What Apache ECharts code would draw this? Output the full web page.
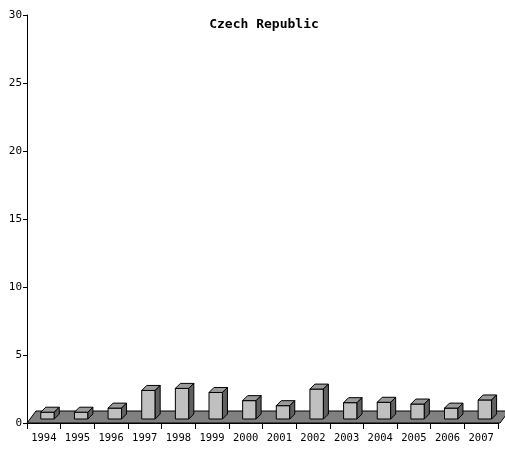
<!DOCTYPE html>
<html>
<head>
    <meta charset="utf-8">
    <title>Czech Republic</title>
    <script src="https://cdn.jsdelivr.net/npm/echarts@6/dist/echarts.min.js"></script>
</head>
<body style="margin:0">
    <div id="main" style="width: 505px;height:450px;"></div>
    <script type="text/javascript">
    var years = ['1994', '1995', '1996', '1997', '1998', '1999', '2000',
                 '2001', '2002', '2003', '2004', '2005', '2006', '2007'];
    var values = [0.5, 0.5, 0.8, 2.1, 2.25, 1.95, 1.35, 0.98, 2.2, 1.2, 1.23, 1.1, 0.8, 1.4];
    var yTicks = [0, 5, 10, 15, 20, 25, 30];

    var font = 'DejaVu Sans Mono';
    var myChart = echarts.init(document.getElementById('main'));

    // floor of the 3d look, built from the grid rect
    function renderFloor(params, api) {
        var cs = params.coordSys;
        var y0 = cs.y + cs.height;
        var x0 = cs.x, x1 = cs.x + cs.width + 2;
        return {
            type: 'polygon',
            shape: { points: [[x0, y0], [x1, y0], [x1 + 9, y0 - 12], [x0 + 9, y0 - 12]] },
            style: { fill: '#808080', stroke: '#000', lineWidth: 1 }
        };
    }

    function renderBar(params, api) {
        var idx = api.value(0);
        var p0 = api.coord([idx, 0]);
        var p1 = api.coord([idx, api.value(1)]);
        var band = api.size([1, 0])[0];
        var w = band * 0.4;
        var d = 5;
        var l = p0[0] - band * 0.09;
        var r = l + w;
        var b = p0[1] - 4;
        var t = p1[1] - 4;
        var st = { stroke: '#000', lineWidth: 1 };
        return {
            type: 'group',
            children: [
                { type: 'polygon', shape: { points: [[l, b], [r, b], [r, t], [l, t]] },
                  style: Object.assign({ fill: '#c0c0c0' }, st) },
                { type: 'polygon', shape: { points: [[l, t], [l + d, t - d], [r + d, t - d], [r, t]] },
                  style: Object.assign({ fill: '#9a9a9a' }, st) },
                { type: 'polygon', shape: { points: [[r, t], [r + d, t - d], [r + d, b - d], [r, b]] },
                  style: Object.assign({ fill: '#606060' }, st) }
            ]
        };
    }

    var option = {
        animation: false,
        backgroundColor: '#fff',
        title: {
            text: 'Czech Republic',
            left: 259,
            textAlign: 'center',
            top: 13,
            textStyle: { fontFamily: font, fontSize: 13, fontWeight: 'bold', color: '#000' }
        },
        grid: { left: 27, right: 7, top: 15, bottom: 27, containLabel: false },
        xAxis: {
            type: 'category',
            data: years,
            boundaryGap: true,
            axisLine: { lineStyle: { color: '#000', width: 1 } },
            axisTick: { show: true, length: 6, lineStyle: { color: '#000' } },
            axisLabel: { fontFamily: font, fontSize: 10.5, color: '#000', margin: 10 }
        },
        yAxis: {
            type: 'value',
            min: yTicks[0],
            max: yTicks[yTicks.length - 1],
            interval: 5,
            axisLine: { show: true, lineStyle: { color: '#000', width: 1 } },
            axisTick: { show: true, length: 4, lineStyle: { color: '#000' } },
            splitLine: { show: false },
            axisLabel: { fontFamily: font, fontSize: 11, color: '#000', margin: 5 }
        },
        series: [
            {
                type: 'custom',
                renderItem: renderFloor,
                data: [[0, 0]],
                z: 1,
                silent: true
            },
            {
                type: 'custom',
                renderItem: renderBar,
                data: values.map(function (v, i) { return [i, v]; }),
                encode: { x: 0, y: 1 },
                z: 2
            }
        ]
    };
    myChart.setOption(option);
    </script>
</body>
</html>
